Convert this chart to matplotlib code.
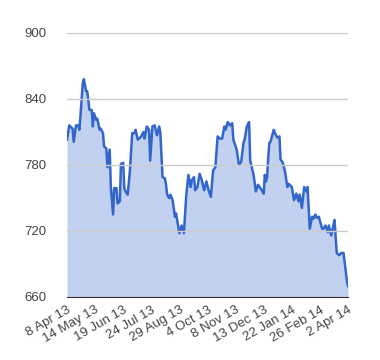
import matplotlib.pyplot as plt

plt.rcParams['font.family'] = ['Liberation Sans', 'DejaVu Sans']

# trading-day index and closing values
idx = [0, 2, 5, 6, 8, 10, 11, 12, 14, 15, 17, 18, 20, 22, 23, 24, 26, 27, 29, 30,
       32, 33, 35, 36, 38, 39, 41, 42, 44, 45, 47, 48, 50, 51, 52, 54, 56, 58, 60, 61,
       63, 66, 68, 69, 71, 73, 74, 76, 78, 80, 82, 83, 85, 87, 88, 89, 90, 91, 92, 94,
       96, 97, 100, 102, 104, 106, 108, 110, 111, 113, 114, 116, 118, 120, 122, 124, 126, 128, 130, 132,
       134, 136, 138, 140, 141, 143, 145, 147, 148, 151, 153, 155, 157, 158, 160, 162, 163, 166, 168, 170,
       172, 174, 175, 176, 177, 178, 179, 180, 181, 184, 185, 187, 189, 190, 192, 194, 196, 197, 198, 200,
       202, 204, 206, 207, 209, 211, 213, 214, 216, 218, 219, 221, 222, 224, 227, 228, 230, 232, 233, 235,
       237, 238, 240, 242, 244, 246, 249, 250]
price = [803, 816, 813, 801, 816, 816, 812, 825, 854, 858, 847, 847, 830, 830, 815, 827, 821, 822, 812, 813,
         809, 797, 795, 778, 794, 760, 735, 759, 759, 745, 747, 781, 782, 759, 756, 753, 775, 809, 809, 812,
         803, 806, 810, 804, 815, 812, 784, 815, 816, 807, 815, 810, 769, 768, 763, 754, 751, 750, 753, 748,
         733, 736, 718, 725, 718, 751, 771, 760, 766, 769, 757, 760, 772, 766, 757, 765, 757, 751, 775, 778,
         806, 804, 804, 815, 812, 819, 816, 818, 803, 794, 780, 783, 800, 803, 815, 819, 784, 771, 756, 762,
         759, 756, 754, 771, 765, 769, 786, 800, 801, 812, 809, 805, 806, 785, 782, 774, 760, 763, 762, 760,
         748, 754, 747, 753, 741, 760, 756, 760, 722, 733, 731, 735, 732, 733, 722, 722, 725, 719, 725, 716,
         725, 730, 700, 698, 700, 700, 675, 670]

tick_pos = [0, 25, 50, 75, 100, 125, 150, 175, 200, 225, 250]
tick_labels = ["8 Apr 13", "14 May 13", "19 Jun 13", "24 Jul 13", "29 Aug 13", "4 Oct 13",
               "8 Nov 13", "13 Dec 13", "22 Jan 14", "26 Feb 14", "2 Apr 14"]
y_ticks = [660, 720, 780, 840, 900]

fig = plt.figure(figsize=(3.8, 3.6), dpi=100)
ax = fig.add_axes([67 / 380, 1 - 297 / 360, 281 / 380, 264 / 360])

ax.fill_between(idx, price, 660, color="#c2d1f0", lw=0)
ax.plot(idx, price, color="#3366cc", lw=1.8)

ax.set_xlim(0, 250)
ax.set_ylim(660, 900)
ax.set_yticks(y_ticks)
ax.set_xticks(tick_pos)
ax.set_xticklabels(tick_labels, rotation=30, ha="right", rotation_mode="anchor")
ax.tick_params(length=0, labelsize=9.5, labelcolor="#444444")
ax.tick_params(axis="y", pad=15)
ax.tick_params(axis="x", pad=5)
ax.grid(axis="y", color="#cccccc", lw=1)
ax.set_axisbelow(False)
for s in ["top", "right", "left"]:
    ax.spines[s].set_visible(False)
ax.spines["bottom"].set_color("#333333")
ax.spines["bottom"].set_zorder(5)

fig.savefig("out.png")
